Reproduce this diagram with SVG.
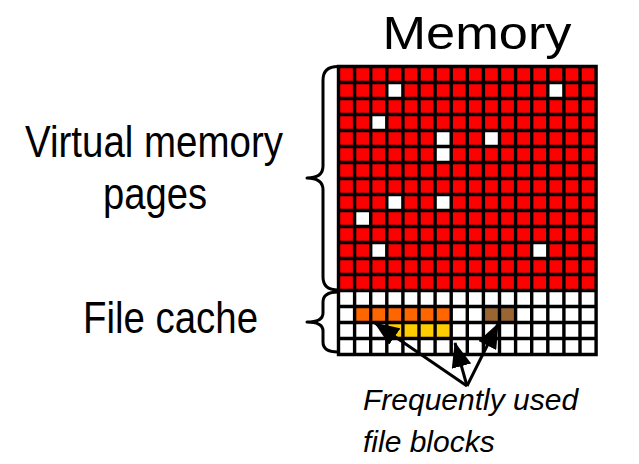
<svg xmlns="http://www.w3.org/2000/svg" width="639" height="464" viewBox="0 0 639 464">
<style>
.lbl{font-family:"Liberation Sans",Arial,sans-serif;fill:#000;text-anchor:middle}
.it{font-style:italic;text-anchor:start}
.brace{fill:none;stroke:#000;stroke-width:3;stroke-linecap:round;stroke-linejoin:round}
.grid{fill:none;stroke:#000;stroke-width:3.4}
.conn{stroke:#000;stroke-width:3;fill:none}
.r{fill:#FF0000}.w{fill:#FFFFFF}.o{fill:#FF6600}.y{fill:#FFCC00}.b{fill:#996633}
</style>
<defs>
<marker id="ah" markerUnits="userSpaceOnUse" markerWidth="25" markerHeight="20" refX="24" refY="10" orient="auto">
<path d="M0,0 L25,10 L0,20 Z" fill="#000"/>
</marker>
</defs>
<rect width="639" height="464" fill="#fff"/>
<g id="title"><text class="lbl" x="477" y="49" font-size="47" textLength="189" lengthAdjust="spacingAndGlyphs">Memory</text></g>
<g id="vm-label"><text class="lbl" x="154" y="157" font-size="44" textLength="258" lengthAdjust="spacingAndGlyphs">Virtual memory</text><text class="lbl" x="155" y="209" font-size="44" textLength="104" lengthAdjust="spacingAndGlyphs">pages</text></g>
<g id="fc-label"><text class="lbl" x="170.5" y="333" font-size="44" textLength="175" lengthAdjust="spacingAndGlyphs">File cache</text></g>
<g id="fb-label"><text class="lbl it" x="363" y="410" font-size="30">Frequently used</text><text class="lbl it" x="363" y="452" font-size="30">file blocks</text></g>
<g id="memory-grid">
<rect class="r" x="338.5" y="66.5" width="257.6" height="224"/>
<rect class="w" x="338.5" y="290.5" width="257.6" height="64"/>
<g id="free-pages">
<rect class="w" x="386.8" y="82.5" width="16.1" height="16"/>
<rect class="w" x="547.8" y="82.5" width="16.1" height="16"/>
<rect class="w" x="370.7" y="114.5" width="16.1" height="16"/>
<rect class="w" x="435.1" y="130.5" width="16.1" height="16"/>
<rect class="w" x="483.4" y="130.5" width="16.1" height="16"/>
<rect class="w" x="435.1" y="146.5" width="16.1" height="16"/>
<rect class="w" x="386.8" y="194.5" width="16.1" height="16"/>
<rect class="w" x="435.1" y="194.5" width="16.1" height="16"/>
<rect class="w" x="354.6" y="210.5" width="16.1" height="16"/>
<rect class="w" x="370.7" y="242.5" width="16.1" height="16"/>
<rect class="w" x="531.7" y="242.5" width="16.1" height="16"/>
</g>
<g id="file-blocks">
<rect class="o" x="354.6" y="306.5" width="96.6" height="16"/>
<rect class="b" x="483.4" y="306.5" width="32.2" height="16"/>
<rect class="y" x="386.8" y="322.5" width="64.4" height="16"/>
</g>
<path class="grid" d="M338.5,66.5V354.5M354.6,66.5V354.5M370.7,66.5V354.5M386.8,66.5V354.5M402.9,66.5V354.5M419,66.5V354.5M435.1,66.5V354.5M451.2,66.5V354.5M467.3,66.5V354.5M483.4,66.5V354.5M499.5,66.5V354.5M515.6,66.5V354.5M531.7,66.5V354.5M547.8,66.5V354.5M563.9,66.5V354.5M580,66.5V354.5M596.1,66.5V354.5
M336.8,66.5H597.8M336.8,82.5H597.8M336.8,98.5H597.8M336.8,114.5H597.8M336.8,130.5H597.8M336.8,146.5H597.8M336.8,162.5H597.8M336.8,178.5H597.8M336.8,194.5H597.8M336.8,210.5H597.8M336.8,226.5H597.8M336.8,242.5H597.8M336.8,258.5H597.8M336.8,274.5H597.8M336.8,290.5H597.8M336.8,306.5H597.8M336.8,322.5H597.8M336.8,338.5H597.8M336.8,354.5H597.8"/>
</g>
<g id="vm-brace"><path class="brace" d="M338,66.5 Q323,66.5 323,80 L323,166 Q323,178 307,178 Q323,178 323,190 L323,277 Q323,290 338,290"/></g>
<g id="fc-brace"><path class="brace" d="M338,292 Q323,292 323,302 L323,313 Q323,322 307,322 Q323,322 323,331 L323,342 Q323,352 338,352"/></g>
<g id="connectors">
<line class="conn" x1="467" y1="386" x2="375" y2="323" marker-end="url(#ah)"/>
<line class="conn" x1="467" y1="386" x2="455" y2="343" marker-end="url(#ah)"/>
<line class="conn" x1="467" y1="386" x2="498" y2="324" marker-end="url(#ah)"/>
</g>
</svg>
